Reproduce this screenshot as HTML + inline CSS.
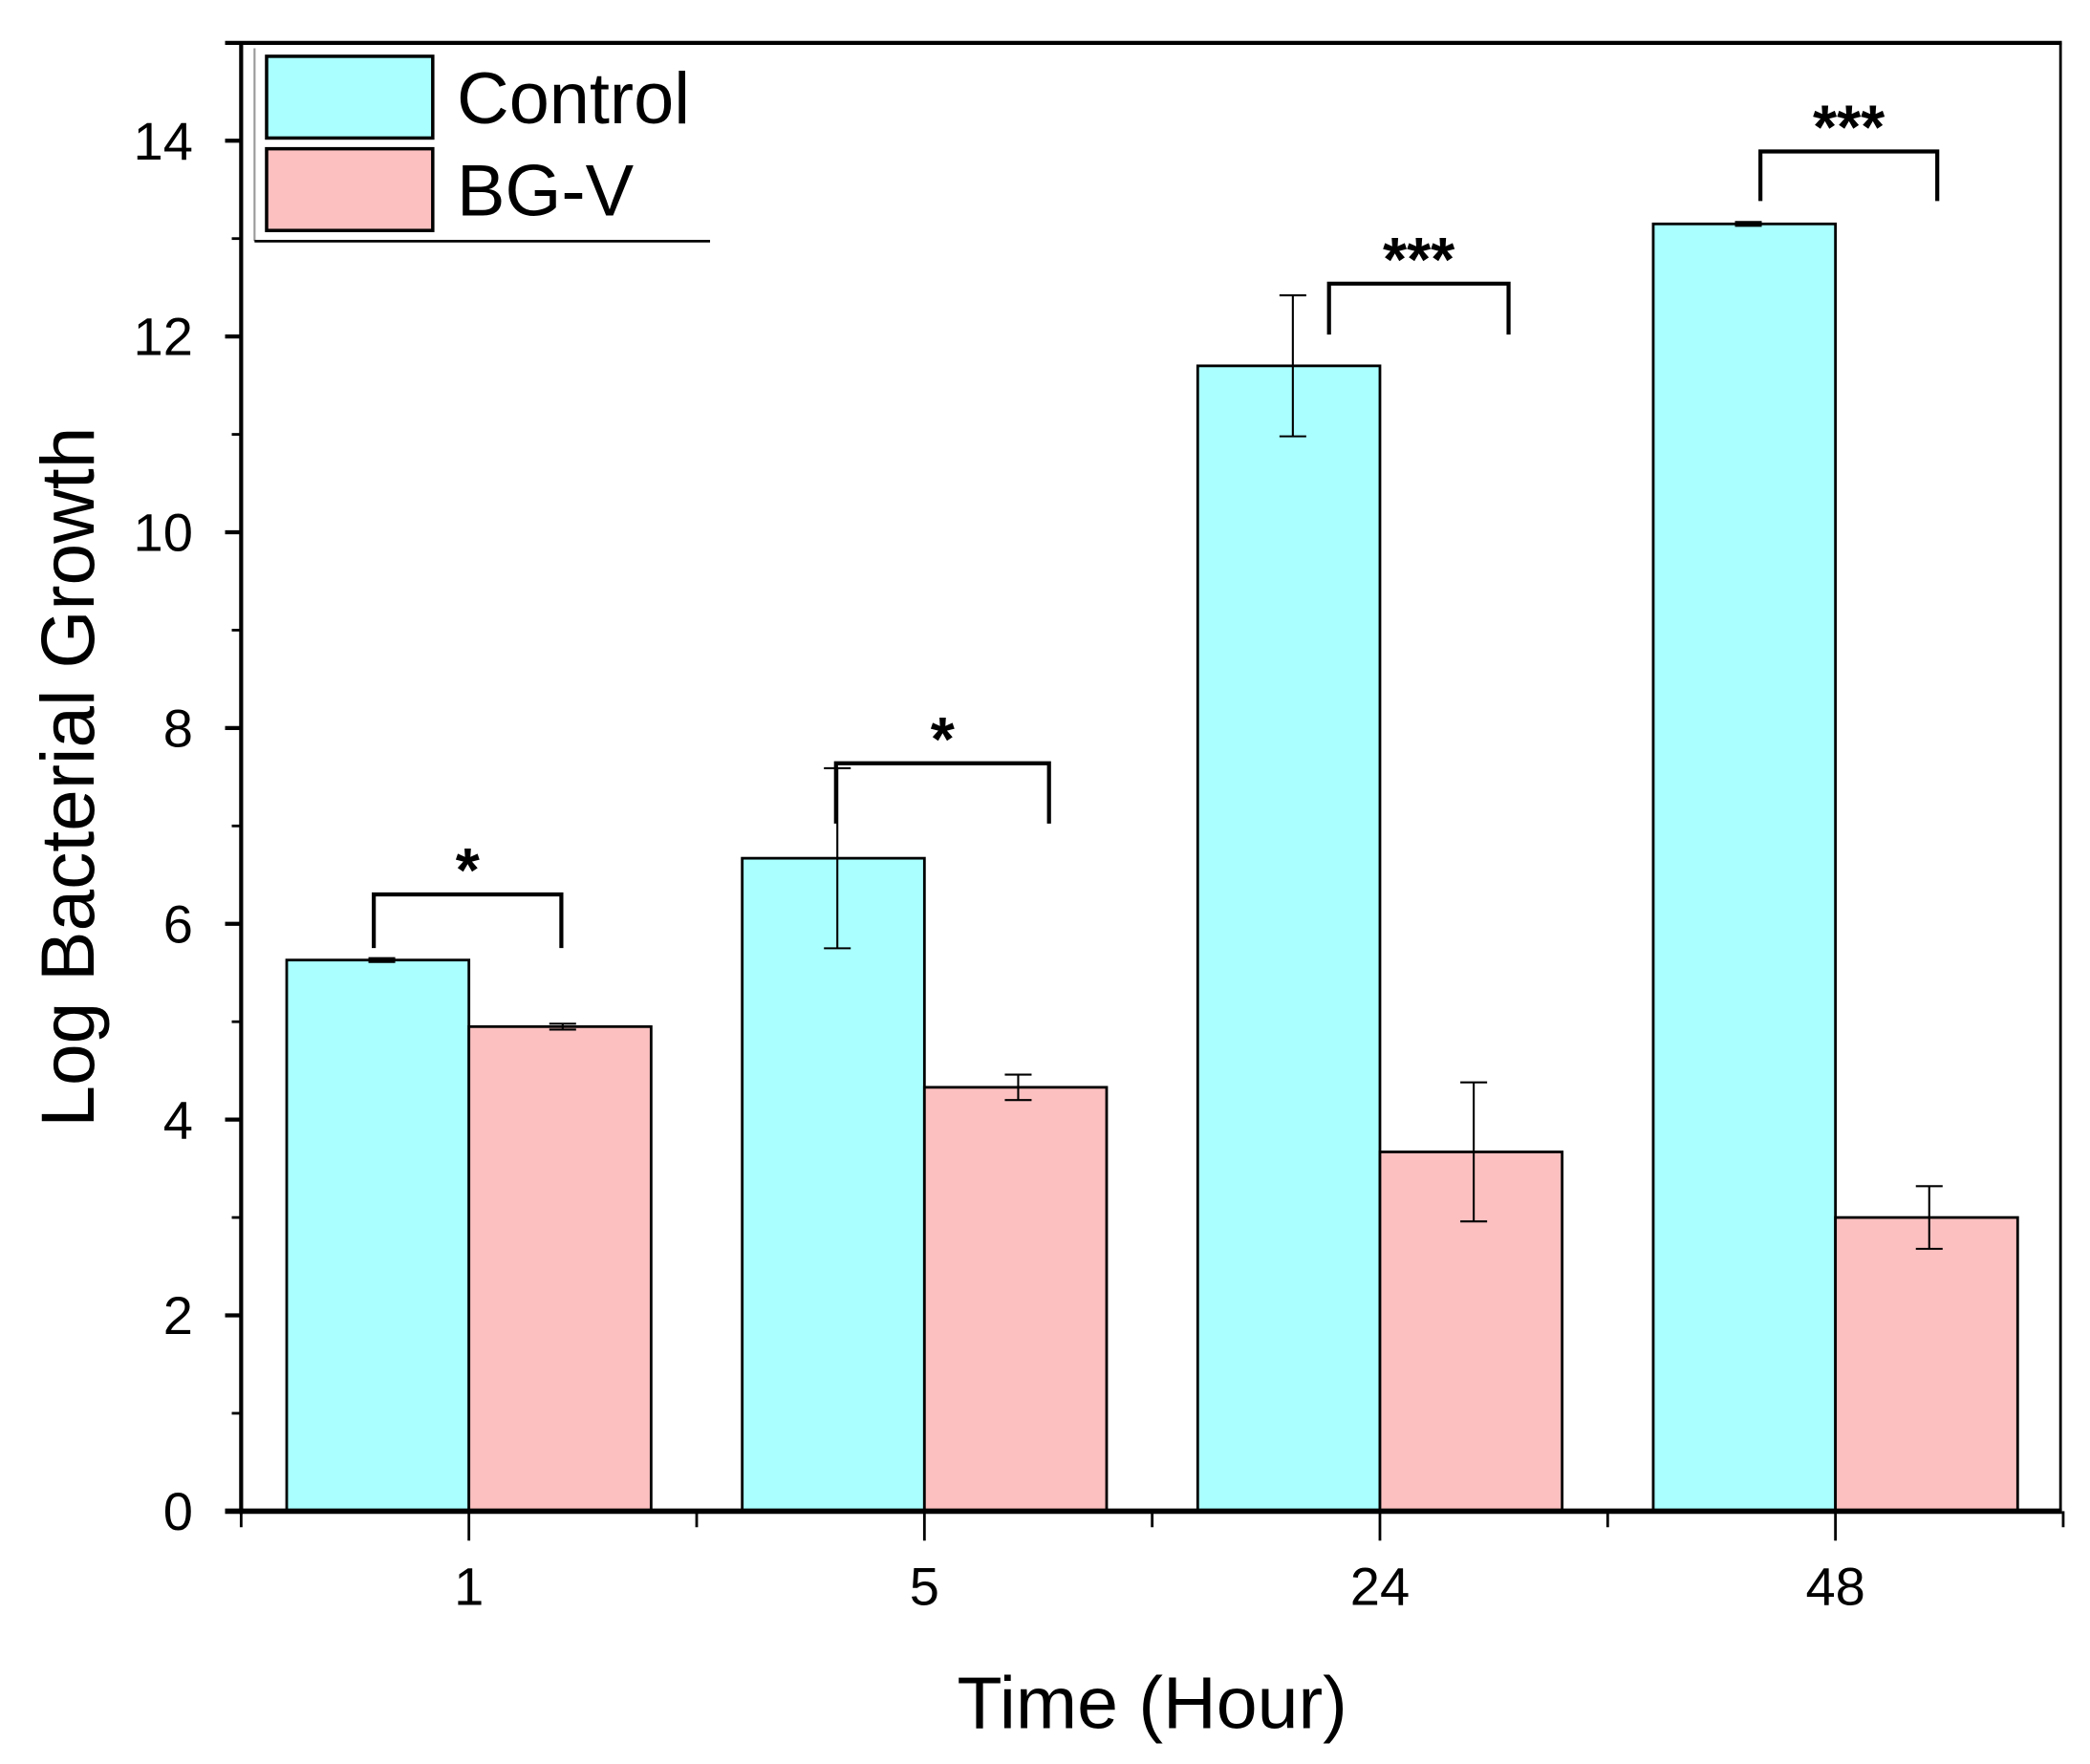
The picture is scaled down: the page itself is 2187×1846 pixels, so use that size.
<!DOCTYPE html>
<html><head><meta charset="utf-8"><style>html,body{margin:0;padding:0;background:#fff}svg{display:block}text{font-family:"Liberation Sans",Arial,sans-serif}</style></head>
<body>
<svg id="chart" width="2187" height="1846" viewBox="0 0 1560 1316.7" xmlns="http://www.w3.org/2000/svg">
<g id="plot"></g>
</svg>
<script>
const categories = ["1", "5", "24", "48"];
const controlValues = [5.63, 6.67, 11.7, 13.15];
const controlErrors = [0.02, 0.92, 0.72, 0.02];
const bgvValues = [4.95, 4.33, 3.67, 3.0];
const bgvErrors = [0.03, 0.13, 0.71, 0.32];
const yTicks = [0, 2, 4, 6, 8, 10, 12, 14];
const sigLabels = ["*", "*", "***", "***"];
const sigLevels = [6.3, 7.64, 12.54, 13.89];

const NS = "http://www.w3.org/2000/svg";
const g = document.getElementById("plot");
const L = 180, R = 1538, T = 32, B = 1128;
const yScale = v => B - v * (B - 105) / 14;
const xCenter = i => 350 + i * 340;
const BW = 136;
const brLeftOff = [-71, -66, -38, -56];
const brRightOff = [69, 93, 96, 76];
const brDrop = [40, 45, 38, 37];

function el(tag, attrs, parent) {
  const e = document.createElementNS(NS, tag);
  for (const k in attrs) e.setAttribute(k, attrs[k]);
  (parent || g).appendChild(e);
  return e;
}
function line(x1, y1, x2, y2, w, c) {
  return el("line", {x1, y1, x2, y2, stroke: c || "#000", "stroke-width": w || 2});
}

categories.forEach((c, i) => {
  const cx = xCenter(i);
  const r1 = el("rect", {x: cx - BW, y: yScale(controlValues[i]), width: BW, height: B - yScale(controlValues[i]), fill: "#aaffff", stroke: "#000", "stroke-width": 2});
  
  
  const r2 = el("rect", {x: cx, y: yScale(bgvValues[i]), width: BW, height: B - yScale(bgvValues[i]), fill: "#fcc0c0", stroke: "#000", "stroke-width": 2});
  
  
  [[cx - BW / 2 + 3, controlValues[i], controlErrors[i]], [cx + BW / 2 + 2, bgvValues[i], bgvErrors[i]]].forEach(([x, v, e], k) => {
    const eg = el("g", {});
    
    
    el("line", {x1: x, y1: yScale(v + e), x2: x, y2: yScale(v - e), stroke: "#000", "stroke-width": 1.5}, eg);
    el("line", {x1: x - 10, y1: yScale(v + e), x2: x + 10, y2: yScale(v + e), stroke: "#000", "stroke-width": 1.5}, eg);
    el("line", {x1: x - 10, y1: yScale(v - e), x2: x + 10, y2: yScale(v - e), stroke: "#000", "stroke-width": 1.5}, eg);
  });
  const bx1 = cx + brLeftOff[i], bx2 = cx + brRightOff[i];
  const yt = yScale(sigLevels[i]);
  const sg = el("g", {});
  
  
  el("path", {d: `M${bx1} ${yt + brDrop[i]} V${yt} H${bx2} V${yt + brDrop[i]}`, fill: "none", stroke: "#000", "stroke-width": 3}, sg);
  const st = el("text", {x: (bx1 + bx2) / 2, y: yt - 2, "text-anchor": "middle", "font-size": 46, "font-weight": "bold"}, sg);
  st.textContent = sigLabels[i];
  line(cx, B, cx, B + 22, 2);
  const tl = el("text", {x: cx, y: 1198, "text-anchor": "middle", "font-size": 40});
  tl.textContent = c;
  
  
});
for (let i = 0; i <= 4; i++) { const x = 180 + i * 340; line(x, B, x, B + 12, 2); }

yTicks.forEach(v => {
  const y = yScale(v);
  line(L - 12, y, L, y, 3);
  const t = el("text", {x: L - 36, y: y + 14, "text-anchor": "end", "font-size": 40});
  t.textContent = v;
  
  
  if (v < 14) line(L - 7, yScale(v + 1), L, yScale(v + 1), 2);
});

line(L, T, L, B + 2, 3);
line(L - 12, B, R + 1, B, 4);
line(L - 12, T, R + 1, T, 3);
line(R, T, R, B, 2);

const lg = el("g", {});


el("line", {x1: 190, y1: 36, x2: 190, y2: 180, stroke: "#999", "stroke-width": 1.5}, lg);
el("line", {x1: 190, y1: 180, x2: 530, y2: 180, stroke: "#000", "stroke-width": 2}, lg);
el("rect", {x: 199, y: 42, width: 124, height: 61, fill: "#aaffff", stroke: "#000", "stroke-width": 2.5}, lg);
el("rect", {x: 199, y: 111, width: 124, height: 61, fill: "#fcc0c0", stroke: "#000", "stroke-width": 2.5}, lg);
const t1 = el("text", {x: 341, y: 92, "font-size": 54}, lg); t1.textContent = "Control";
const t2 = el("text", {x: 341, y: 161, "font-size": 54}, lg); t2.textContent = "BG-V";

const xt = el("text", {x: 860, y: 1290, "text-anchor": "middle", "font-size": 55});
xt.textContent = "Time (Hour)";


const yt = el("text", {x: 0, y: 0, "text-anchor": "middle", "font-size": 56, transform: "translate(70 580) rotate(-90)"});
yt.textContent = "Log Bacterial Growth";


</script>
</body></html>
